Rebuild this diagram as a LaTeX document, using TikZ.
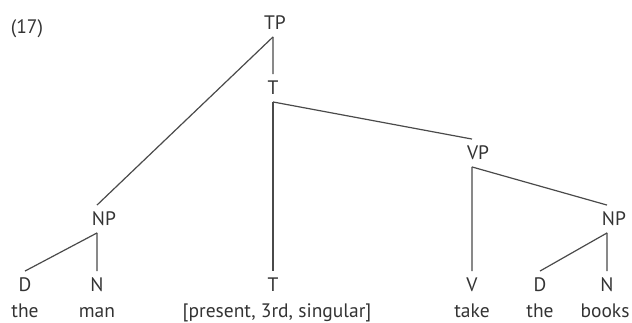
\documentclass[tikz,border=0pt]{standalone}
\usepackage{fontspec}
\setmainfont{PT Sans}
\definecolor{ink}{HTML}{333333}
\definecolor{branch}{HTML}{4A4A4A}
\begin{document}
\begin{tikzpicture}[x=1bp,y=-1bp,
  lab/.style={font=\fontsize{19.5bp}{22bp}\selectfont, text=ink, text height=13.5bp, text depth=0pt, inner xsep=1bp, inner ysep=7bp},
  word/.style={font=\fontsize{19.5bp}{22bp}\selectfont, text=ink, anchor=base, inner sep=0pt},
  br/.style={draw=branch, line width=1.2bp}]
\useasboundingbox (0,0) rectangle (632,322);
\node[lab] (ex) at (27,27) {(17)};
\node[lab] (TP) at (275,23) {TP};
\node[lab] (T1) at (273,88) {T};
\node[lab] (VP) at (478,153) {VP};
\node[lab] (NP1) at (104,219) {NP};
\node[lab] (NP2) at (614,219) {NP};
\node[lab] (D1) at (25,285) {D};
\node[lab] (N1) at (97,285) {N};
\node[lab] (T2) at (273,285) {T};
\node[lab] (V) at (472,285) {V};
\node[lab] (D2) at (540,285) {D};
\node[lab] (N2) at (607,285) {N};
\node[word] (w1) at (25,317.5) {the};
\node[word] (w2) at (97,317.5) {man};
\node[word] (w3) at (277,317.5) {[present, 3rd, singular]};
\node[word] (w4) at (472,317.5) {take};
\node[word] (w5) at (540,317.5) {the};
\node[word] (w6) at (605,317.5) {books};
\draw[br] ([xshift=-2bp]TP.south) -- ([xshift=-7bp]NP1.north);
\draw[br] ([xshift=-2bp]TP.south) -- (T1.north);
\draw[br] (T1.south) -- (T2.north);
\draw[br] (T1.south) -- ([xshift=-6bp]VP.north);
\draw[br] ([xshift=-6bp]VP.south) -- (V.north);
\draw[br] ([xshift=-6bp]VP.south) -- ([xshift=-7bp]NP2.north);
\draw[br] ([xshift=-7bp]NP1.south) -- (D1.north);
\draw[br] ([xshift=-7bp]NP1.south) -- (N1.north);
\draw[br] ([xshift=-7bp]NP2.south) -- (D2.north);
\draw[br] ([xshift=-7bp]NP2.south) -- (N2.north);
\end{tikzpicture}
\end{document}
